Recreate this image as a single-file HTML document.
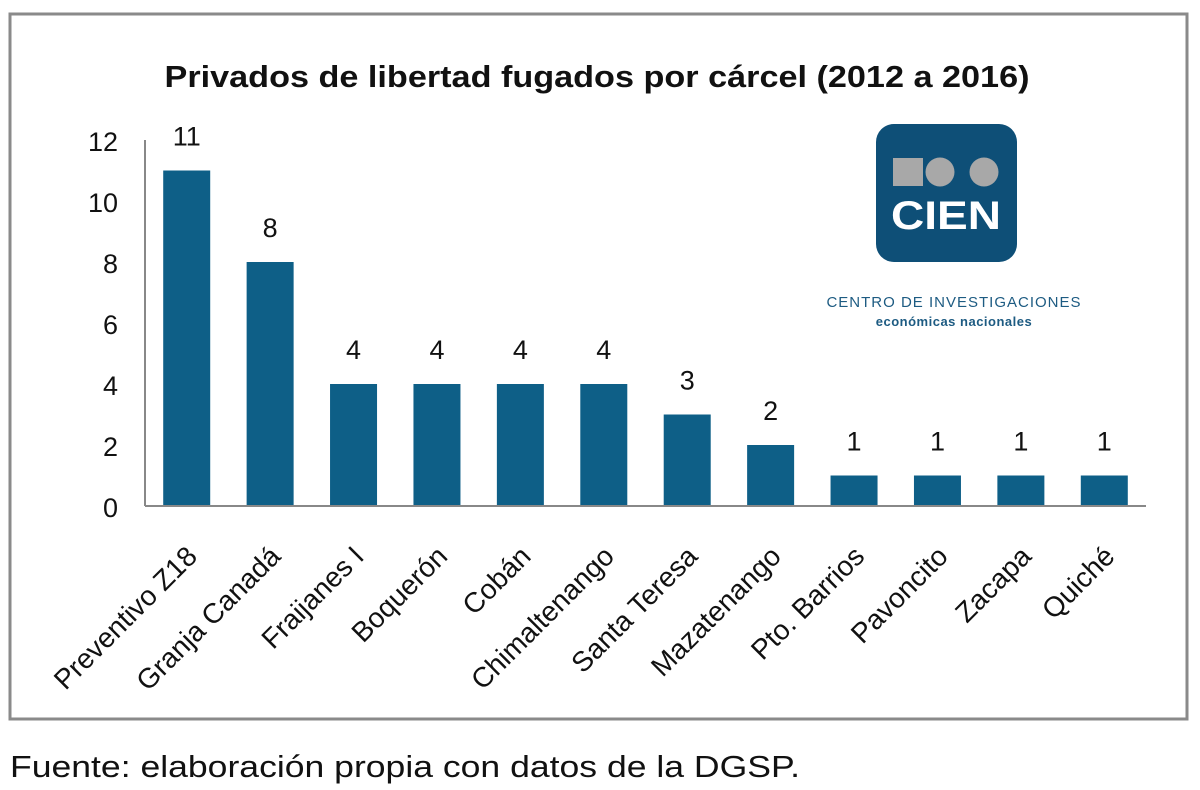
<!DOCTYPE html>
<html><head><meta charset="utf-8"><style>
body{margin:0;background:#fff;}
svg{display:block;font-family:"Liberation Sans",sans-serif;}
</style></head><body>
<svg id="chart" width="1200" height="790">
<rect x="10" y="14" width="1177" height="705" fill="#fff" stroke="#8a8a8a" stroke-width="3"/>
<text x="597" y="87" text-anchor="middle" font-size="31" font-weight="bold" fill="#111" textLength="865" lengthAdjust="spacingAndGlyphs">Privados de libertad fugados por cárcel (2012 a 2016)</text>
<g>
<rect x="876" y="124" width="141" height="138" rx="18" fill="#0e4f77"/>
<rect x="893" y="158" width="30" height="28" fill="#a8a8a8"/>
<circle cx="940" cy="172" r="14.5" fill="#a8a8a8"/>
<circle cx="984" cy="172" r="14.5" fill="#a8a8a8"/>
<text x="946" y="229" text-anchor="middle" font-size="40" font-weight="bold" fill="#fff" textLength="110" lengthAdjust="spacingAndGlyphs">CIEN</text>
<text x="954" y="307" text-anchor="middle" font-size="15" fill="#1d5b82" letter-spacing="1">CENTRO DE INVESTIGACIONES</text>
<text x="954" y="326" text-anchor="middle" font-size="13" font-weight="bold" fill="#1d5b82" letter-spacing="0.5">económicas nacionales</text>
</g>
<g id="plot"></g>
<text x="10" y="777" font-size="31" fill="#111" textLength="790" lengthAdjust="spacingAndGlyphs">Fuente: elaboración propia con datos de la DGSP.</text>
</svg>
<script>
const categories=["Preventivo Z18","Granja Canadá","Fraijanes I","Boquerón","Cobán","Chimaltenango","Santa Teresa","Mazatenango","Pto. Barrios","Pavoncito","Zacapa","Quiché"];
const values=[11,8,4,4,4,4,3,2,1,1,1,1];
const yTicks=[0,2,4,6,8,10,12];
const NS="http://www.w3.org/2000/svg";
const g=document.getElementById('plot');
const x0=145,x1=1146,y0=506,yTop=140,ymax=12;
const band=(x1-x0)/categories.length;
const y=v=>y0-(v/ymax)*(y0-yTop);
const xc=i=>x0+band*(i+0.5);
function mk(t,a){const e=document.createElementNS(NS,t);for(const k in a)e.setAttribute(k,a[k]);g.appendChild(e);return e;}
yTicks.forEach(t=>{
 const e=mk('text',{x:118,y:y(t)+11,'text-anchor':'end','font-size':27,fill:'#111'});
 e.textContent=t;
 
 
});
values.forEach((v,i)=>{
 const r=mk('rect',{x:xc(i)-23.5,y:y(v),width:47,height:y0-y(v),fill:'#0e5f87'});
 
 
 const l=mk('text',{x:xc(i),y:y(v)-25,'text-anchor':'middle','font-size':27,fill:'#111'});
 l.textContent=v;
 
 
 const c=mk('text',{'text-anchor':'end','font-size':28,fill:'#111',transform:`translate(${xc(i)+12},${y0+52}) rotate(-45)`});
 c.textContent=categories[i];
 
 
});
const ya=mk('line',{x1:x0,y1:yTop,x2:x0,y2:y0,stroke:'#888','stroke-width':2});


const xa=mk('line',{x1:x0,y1:y0,x2:x1,y2:y0,stroke:'#888','stroke-width':2});


</script>
</body></html>
